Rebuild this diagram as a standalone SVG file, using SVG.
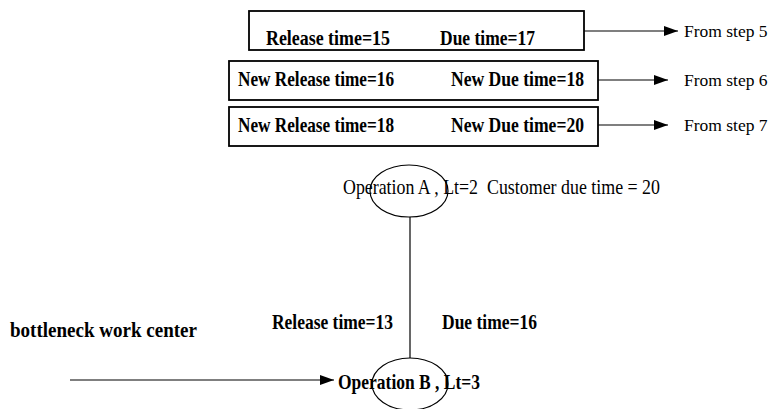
<svg xmlns="http://www.w3.org/2000/svg" width="771" height="409" viewBox="0 0 771 409">
  <style>
    .box { fill: #ffffff; stroke: #000000; stroke-width: 1.8; }
    .oval { fill: none; stroke: #000000; stroke-width: 1.2; }
    .edge { fill: none; stroke: #000000; stroke-width: 1.2; }
    .b { font-family: "Liberation Serif", "Times New Roman", serif; font-weight: bold; font-size: 22px; fill: #000000; }
    .r { font-family: "Liberation Serif", "Times New Roman", serif; font-size: 21px; fill: #000000; }
    .s { font-family: "Liberation Serif", "Times New Roman", serif; font-size: 17.5px; fill: #000000; }
  </style>
  <defs>
    <marker id="arrow" viewBox="0 0 14 10" refX="14" refY="5" markerWidth="14" markerHeight="10" markerUnits="userSpaceOnUse" orient="auto">
      <path d="M0,0 L14,5 L0,10 Z" fill="#000000"/>
    </marker>
  </defs>

  <!-- step boxes -->
  <g id="step5">
    <rect class="box" x="249" y="11" width="335" height="39"/>
    <text class="b" x="266" y="45" textLength="124" lengthAdjust="spacingAndGlyphs">Release time=15</text>
    <text class="b" x="440" y="45" textLength="95" lengthAdjust="spacingAndGlyphs">Due time=17</text>
  </g>
  <g id="step6">
    <rect class="box" x="229" y="61" width="369" height="39"/>
    <text class="b" x="238" y="86" textLength="156" lengthAdjust="spacingAndGlyphs">New Release time=16</text>
    <text class="b" x="451" y="86" textLength="133" lengthAdjust="spacingAndGlyphs">New Due time=18</text>
  </g>
  <g id="step7">
    <rect class="box" x="229" y="107" width="369" height="39"/>
    <text class="b" x="238" y="132" textLength="156" lengthAdjust="spacingAndGlyphs">New Release time=18</text>
    <text class="b" x="451" y="132" textLength="133" lengthAdjust="spacingAndGlyphs">New Due time=20</text>
  </g>

  <!-- step labels -->
  <g id="from5"><text class="s" x="684" y="37">From step 5</text></g>
  <g id="from6"><text class="s" x="684" y="86">From step 6</text></g>
  <g id="from7"><text class="s" x="684" y="131">From step 7</text></g>

  <!-- operations -->
  <g id="opA">
    <ellipse class="oval" cx="409" cy="191" rx="39" ry="26"/>
    <text class="r" x="343" y="194" textLength="135" lengthAdjust="spacingAndGlyphs">Operation A , Lt=2</text>
    <text class="r" x="487" y="194" textLength="173" lengthAdjust="spacingAndGlyphs">Customer due time = 20</text>
  </g>
  <g id="opB">
    <ellipse class="oval" cx="410" cy="384" rx="38" ry="26"/>
    <text class="b" x="338" y="389" textLength="142" lengthAdjust="spacingAndGlyphs">Operation B , Lt=3</text>
  </g>

  <g id="labels">
    <text class="b" x="272" y="329" textLength="121" lengthAdjust="spacingAndGlyphs">Release time=13</text>
    <text class="b" x="442" y="329" textLength="95" lengthAdjust="spacingAndGlyphs">Due time=16</text>
    <text class="b" x="10" y="337" textLength="187" lengthAdjust="spacingAndGlyphs">bottleneck work center</text>
  </g>

  <!-- connectors -->
  <g id="connectors">
    <line class="edge" x1="584" y1="31" x2="678" y2="31" marker-end="url(#arrow)"/>
    <line class="edge" x1="598" y1="80" x2="668" y2="80" marker-end="url(#arrow)"/>
    <line class="edge" x1="598" y1="125" x2="668" y2="125" marker-end="url(#arrow)"/>
    <line class="edge" x1="410" y1="217" x2="410" y2="358"/>
    <line class="edge" x1="70" y1="380" x2="334" y2="380" marker-end="url(#arrow)"/>
  </g>
</svg>
